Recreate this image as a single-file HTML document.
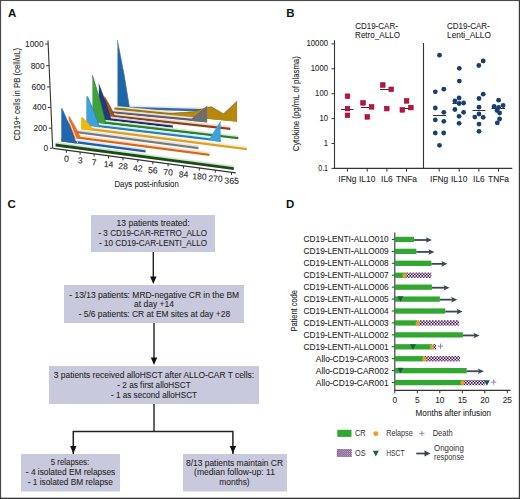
<!DOCTYPE html><html><head><meta charset="utf-8"><style>html,body{margin:0;padding:0;background:#fff;}svg{display:block;}</style></head><body>
<svg width="520" height="499" viewBox="0 0 520 499" font-family='"Liberation Sans", sans-serif'>
<defs><pattern id="chk" width="3" height="3.1" patternUnits="userSpaceOnUse" y="379"><rect width="3" height="3.1" fill="#f6e8f6"/><rect width="1.5" height="1.55" fill="#401650"/><rect x="1.5" y="1.55" width="1.5" height="1.55" fill="#401650"/></pattern><pattern id="chk2" width="2.1" height="2.1" patternUnits="userSpaceOnUse" x="337.3" y="449"><rect width="2.1" height="2.1" fill="#e2c8ea"/><rect width="1.05" height="1.05" fill="#553064"/><rect x="1.05" y="1.05" width="1.05" height="1.05" fill="#553064"/></pattern></defs>
<rect x="0" y="0" width="520" height="499" fill="#fff"/>
<rect x="0" y="0" width="520" height="1.05" fill="#4a4a4a"/><rect x="0" y="0" width="1.1" height="499" fill="#4a4a4a"/><rect x="518.8" y="0" width="1.2" height="499" fill="#3a3a3a"/><rect x="0" y="497.7" width="520" height="1.3" fill="#333"/>
<text x="8" y="16.8" font-size="11.5" text-anchor="start" fill="#111" font-weight="bold" >A</text>
<text x="286.3" y="16.9" font-size="11.5" text-anchor="start" fill="#111" font-weight="bold" >B</text>
<text x="7.6" y="207.6" font-size="11.5" text-anchor="start" fill="#111" font-weight="bold" >C</text>
<text x="286" y="207.6" font-size="11.5" text-anchor="start" fill="#111" font-weight="bold" >D</text>
<line x1="48.0" y1="40.4" x2="52.7" y2="148.2" stroke="#333" stroke-width="1.1"/>
<line x1="45.1569573283859" y1="44" x2="48.1569573283859" y2="44" stroke="#333" stroke-width="1"/>
<text x="43.56" y="47.0" font-size="8.3" text-anchor="end" fill="#262626" font-weight="normal" stroke="#262626" stroke-width="0.08" >1000</text>
<line x1="46.1030612244898" y1="65.7" x2="49.1030612244898" y2="65.7" stroke="#333" stroke-width="1"/>
<text x="44.5" y="68.7" font-size="8.3" text-anchor="end" fill="#262626" font-weight="normal" stroke="#262626" stroke-width="0.08" >800</text>
<line x1="47.02736549165121" y1="86.9" x2="50.02736549165121" y2="86.9" stroke="#333" stroke-width="1"/>
<text x="45.43" y="89.9" font-size="8.3" text-anchor="end" fill="#262626" font-weight="normal" stroke="#262626" stroke-width="0.08" >600</text>
<line x1="47.92115027829313" y1="107.4" x2="50.92115027829313" y2="107.4" stroke="#333" stroke-width="1"/>
<text x="46.32" y="110.4" font-size="8.3" text-anchor="end" fill="#262626" font-weight="normal" stroke="#262626" stroke-width="0.08" >400</text>
<line x1="48.828014842300554" y1="128.2" x2="51.828014842300554" y2="128.2" stroke="#333" stroke-width="1"/>
<text x="47.23" y="131.2" font-size="8.3" text-anchor="end" fill="#262626" font-weight="normal" stroke="#262626" stroke-width="0.08" >200</text>
<line x1="49.7" y1="148.2" x2="52.7" y2="148.2" stroke="#333" stroke-width="1"/>
<text x="48.1" y="151.2" font-size="8.3" text-anchor="end" fill="#262626" font-weight="normal" stroke="#262626" stroke-width="0.08" >0</text>
<text x="0" y="0" font-size="9.4" fill="#262626" stroke="#262626" stroke-width="0.1" text-anchor="middle" textLength="92.6" lengthAdjust="spacingAndGlyphs" transform="translate(20.4,94.2) rotate(-90)">CD19+ cells in PB (cell/uL)</text>
<line x1="53.2" y1="148.4" x2="235.8" y2="172.9" stroke="#333" stroke-width="1.1"/>
<line x1="66.3" y1="150.15766703176342" x2="66.3" y2="152.75766703176342" stroke="#333" stroke-width="1"/>
<text x="0" y="0" font-size="8.6" fill="#262626" stroke="#262626" stroke-width="0.1" text-anchor="middle" transform="translate(66.30,161.56) rotate(1.5)">0</text>
<line x1="80.12" y1="152.0119386637459" x2="80.12" y2="154.6119386637459" stroke="#333" stroke-width="1"/>
<text x="0" y="0" font-size="8.6" fill="#262626" stroke="#262626" stroke-width="0.1" text-anchor="middle" transform="translate(80.12,163.41) rotate(1.5)">3</text>
<line x1="94.17999999999999" y1="153.89841182913472" x2="94.17999999999999" y2="156.4984118291347" stroke="#333" stroke-width="1"/>
<text x="0" y="0" font-size="8.6" fill="#262626" stroke="#262626" stroke-width="0.1" text-anchor="middle" transform="translate(94.18,165.30) rotate(1.5)">7</text>
<line x1="108.47999999999999" y1="155.81708652792992" x2="108.47999999999999" y2="158.4170865279299" stroke="#333" stroke-width="1"/>
<text x="0" y="0" font-size="8.6" fill="#262626" stroke="#262626" stroke-width="0.1" text-anchor="middle" transform="translate(108.48,167.22) rotate(1.5)">14</text>
<line x1="123.02" y1="157.76796276013144" x2="123.02" y2="160.36796276013143" stroke="#333" stroke-width="1"/>
<text x="0" y="0" font-size="8.6" fill="#262626" stroke="#262626" stroke-width="0.1" text-anchor="middle" transform="translate(123.02,169.17) rotate(1.5)">28</text>
<line x1="137.8" y1="159.7510405257393" x2="137.8" y2="162.3510405257393" stroke="#333" stroke-width="1"/>
<text x="0" y="0" font-size="8.6" fill="#262626" stroke="#262626" stroke-width="0.1" text-anchor="middle" transform="translate(137.80,171.15) rotate(1.5)">42</text>
<line x1="152.82" y1="161.76631982475357" x2="152.82" y2="164.36631982475356" stroke="#333" stroke-width="1"/>
<text x="0" y="0" font-size="8.6" fill="#262626" stroke="#262626" stroke-width="0.1" text-anchor="middle" transform="translate(152.82,173.17) rotate(1.5)">56</text>
<line x1="168.07999999999998" y1="163.81380065717417" x2="168.07999999999998" y2="166.41380065717416" stroke="#333" stroke-width="1"/>
<text x="0" y="0" font-size="8.6" fill="#262626" stroke="#262626" stroke-width="0.1" text-anchor="middle" transform="translate(168.08,175.21) rotate(1.5)">70</text>
<line x1="183.57999999999998" y1="165.8934830230011" x2="183.57999999999998" y2="168.4934830230011" stroke="#333" stroke-width="1"/>
<text x="0" y="0" font-size="8.6" fill="#262626" stroke="#262626" stroke-width="0.1" text-anchor="middle" transform="translate(183.58,177.29) rotate(1.5)">84</text>
<line x1="199.32" y1="168.0053669222344" x2="199.32" y2="170.6053669222344" stroke="#333" stroke-width="1"/>
<text x="0" y="0" font-size="8.6" fill="#262626" stroke="#262626" stroke-width="0.1" text-anchor="middle" transform="translate(199.32,179.41) rotate(1.5)">180</text>
<line x1="215.3" y1="170.14945235487406" x2="215.3" y2="172.74945235487405" stroke="#333" stroke-width="1"/>
<text x="0" y="0" font-size="8.6" fill="#262626" stroke="#262626" stroke-width="0.1" text-anchor="middle" transform="translate(215.30,181.55) rotate(1.5)">270</text>
<line x1="231.52" y1="172.32573932092004" x2="231.52" y2="174.92573932092003" stroke="#333" stroke-width="1"/>
<text x="0" y="0" font-size="8.6" fill="#262626" stroke="#262626" stroke-width="0.1" text-anchor="middle" transform="translate(231.52,183.73) rotate(1.5)">365</text>
<text x="114.4" y="187.0" font-size="9.2" text-anchor="start" fill="#262626" font-weight="normal" stroke="#262626" stroke-width="0.08" textLength="64.4" lengthAdjust="spacingAndGlyphs" >Days post-infusion</text>
<polygon points="119.00,104.97 201.70,107.50 201.70,109.10 117.50,106.57" fill="#dbe8f6" />
<polygon points="117.50,106.57 201.70,109.10 201.70,111.40 117.50,108.88" fill="#3a6aa0" />
<polygon points="117.50,108.88 117.50,40.60 117.30,40.10 124.10,74.67 129.70,109.24" fill="#1f66a6" />
<polyline points="117.30,40.10 124.10,74.67 129.70,109.24" fill="none" stroke="#3a6aa0" stroke-width="0.9" opacity="0.8"/>
<polygon points="115.90,106.02 236.30,117.60 236.30,119.20 114.40,107.62" fill="#f0e4c4" />
<polygon points="114.40,107.62 236.30,119.20 236.30,121.50 114.40,109.92" fill="#9c7410" />
<polygon points="168.00,115.01 168.00,113.60 194.50,111.60 206.80,107.30 211.50,106.80 223.40,113.80 236.70,101.50 236.70,121.70" fill="#b7880e" />
<polyline points="168,113.6 194.5,111.6 206.8,107.3 211.5,106.8 223.4,113.8 236.7,101.5 236.7,121.7" fill="none" stroke="#6a5208" stroke-width="0.7" opacity="0.7"/>
<polygon points="111.50,109.30 206.50,118.47 206.50,120.07 110.00,110.90" fill="#e0e0e6" />
<polygon points="110.00,110.90 206.50,120.07 206.50,122.37 110.00,113.20" fill="#5e5e66" />
<polygon points="188.80,120.69 207.20,105.80 207.20,122.40" fill="#6e6e70" />
<polygon points="106.00,112.46 230.30,126.04 230.30,127.64 104.50,114.06" fill="#f0dccc" />
<polygon points="104.50,114.06 230.30,127.64 230.30,129.94 104.50,116.36" fill="#8e3f18" />
<polygon points="104.50,116.36 104.50,97.10 104.50,96.60 110.45,107.06 115.20,117.51" fill="#a5521d" />
<polyline points="104.50,96.60 110.45,107.06 115.20,117.51" fill="none" stroke="#8e3f18" stroke-width="0.9" opacity="0.8"/>
<polygon points="100.40,115.36 172.80,123.93 172.80,125.53 98.90,116.96" fill="#d2d8ea" />
<polygon points="98.90,116.96 172.80,125.53 172.80,127.83 98.90,119.26" fill="#1a2e66" />
<polygon points="98.90,119.26 98.90,84.90 98.90,84.40 105.70,102.55 111.30,120.70" fill="#1e3c7c" />
<polyline points="98.90,84.40 105.70,102.55 111.30,120.70" fill="none" stroke="#1a2e66" stroke-width="0.9" opacity="0.8"/>
<polygon points="93.90,118.51 238.30,135.43 238.30,137.03 92.40,120.11" fill="#d4ecd0" />
<polygon points="92.40,120.11 238.30,137.03 238.30,139.33 92.40,122.41" fill="#2f7d2f" />
<polygon points="92.40,122.41 92.40,75.50 92.40,75.00 99.80,99.49 106.00,123.99" fill="#40a03c" />
<polyline points="92.40,75.00 99.80,99.49 106.00,123.99" fill="none" stroke="#2f7d2f" stroke-width="0.9" opacity="0.8"/>
<polygon points="87.80,121.95 220.60,137.80 220.60,139.40 86.30,123.55" fill="#d2eefa" />
<polygon points="86.30,123.55 220.60,139.40 220.60,141.70 86.30,125.85" fill="#2582bc" />
<polygon points="86.30,125.85 86.30,96.70 87.50,96.20 94.10,111.81 99.50,127.41" fill="#3ea1dc" />
<polyline points="87.50,96.20 94.10,111.81 99.50,127.41" fill="none" stroke="#2582bc" stroke-width="0.9" opacity="0.8"/>
<polygon points="208.50,140.27 220.60,120.80 220.60,142.00" fill="#3ea1dc" />
<polygon points="82.60,125.25 246.80,146.46 246.80,148.06 81.10,126.85" fill="#fcefc4" />
<polygon points="81.10,126.85 246.80,148.06 246.80,150.36 81.10,129.15" fill="#dca02a" />
<polygon points="81.10,129.15 81.10,117.80 82.20,117.30 88.70,124.05 94.00,130.80" fill="#f3b805" />
<polyline points="82.20,117.30 88.70,124.05 94.00,130.80" fill="none" stroke="#dca02a" stroke-width="0.9" opacity="0.8"/>
<polygon points="76.50,129.17 198.50,145.34 198.50,146.94 75.00,130.77" fill="#e6e6e6" />
<polygon points="75.00,130.77 198.50,146.94 198.50,149.24 75.00,133.07" fill="#7a7a7a" />
<polygon points="70.00,133.66 209.50,152.13 209.50,153.73 68.50,135.26" fill="#fbe0c8" />
<polygon points="68.50,135.26 209.50,153.73 209.50,156.03 68.50,137.56" fill="#d8661a" />
<polygon points="68.50,137.56 68.50,116.70 69.00,116.20 75.65,127.71 81.10,139.21" fill="#e8721e" />
<polyline points="69.00,116.20 75.65,127.71 81.10,139.21" fill="none" stroke="#d8661a" stroke-width="0.9" opacity="0.8"/>
<polygon points="62.80,137.52 145.60,148.65 145.60,150.25 61.30,139.12" fill="#d6e6f6" />
<polygon points="61.30,139.12 145.60,150.25 145.60,152.55 61.30,141.42" fill="#1f5ea8" />
<polygon points="61.30,141.42 61.30,108.80 61.80,108.30 69.60,125.84 76.20,143.39" fill="#2366b0" />
<polyline points="63.30,109.10 71.10,125.84 77.70,142.79" fill="none" stroke="#fff" stroke-width="1.0" opacity="0.8"/>
<polyline points="61.80,108.30 69.60,125.84 76.20,143.39" fill="none" stroke="#1f5ea8" stroke-width="0.9" opacity="0.8"/>
<polygon points="57.00,142.01 233.90,165.55 233.90,167.15 55.50,143.61" fill="#cfe8c6" />
<polygon points="55.50,143.61 233.90,167.15 233.90,169.95 55.50,146.41" fill="#1a4a1a" />
<text x="376.5" y="29.2" font-size="9.6" text-anchor="middle" fill="#262626" font-weight="normal" stroke="#262626" stroke-width="0.08" textLength="42.7" lengthAdjust="spacingAndGlyphs" >CD19-CAR-</text>
<text x="377.5" y="38.2" font-size="9.6" text-anchor="middle" fill="#262626" font-weight="normal" stroke="#262626" stroke-width="0.08" textLength="44.9" lengthAdjust="spacingAndGlyphs" >Retro_ALLO</text>
<text x="468.4" y="29.2" font-size="9.6" text-anchor="middle" fill="#262626" font-weight="normal" stroke="#262626" stroke-width="0.08" textLength="42.8" lengthAdjust="spacingAndGlyphs" >CD19-CAR-</text>
<text x="469" y="38.2" font-size="9.6" text-anchor="middle" fill="#262626" font-weight="normal" stroke="#262626" stroke-width="0.08" textLength="43.9" lengthAdjust="spacingAndGlyphs" >Lenti_ALLO</text>
<line x1="334.5" y1="40.2" x2="334.5" y2="168.4" stroke="#333" stroke-width="1.1"/>
<line x1="334" y1="168.4" x2="512.3" y2="168.4" stroke="#333" stroke-width="1.2"/>
<line x1="423.5" y1="43" x2="423.5" y2="168.4" stroke="#333" stroke-width="1.1"/>
<line x1="331.5" y1="43.900000000000006" x2="334.5" y2="43.900000000000006" stroke="#333" stroke-width="1"/>
<text x="328" y="46.2" font-size="8.7" text-anchor="end" fill="#262626" font-weight="normal" stroke="#262626" stroke-width="0.08" textLength="21.5" lengthAdjust="spacingAndGlyphs" >10000</text>
<line x1="331.5" y1="68.80000000000001" x2="334.5" y2="68.80000000000001" stroke="#333" stroke-width="1"/>
<text x="328" y="71.1" font-size="8.7" text-anchor="end" fill="#262626" font-weight="normal" stroke="#262626" stroke-width="0.08" textLength="17.2" lengthAdjust="spacingAndGlyphs" >1000</text>
<line x1="331.5" y1="93.7" x2="334.5" y2="93.7" stroke="#333" stroke-width="1"/>
<text x="328" y="96.0" font-size="8.7" text-anchor="end" fill="#262626" font-weight="normal" stroke="#262626" stroke-width="0.08" textLength="12.9" lengthAdjust="spacingAndGlyphs" >100</text>
<line x1="331.5" y1="118.6" x2="334.5" y2="118.6" stroke="#333" stroke-width="1"/>
<text x="328" y="120.9" font-size="8.7" text-anchor="end" fill="#262626" font-weight="normal" stroke="#262626" stroke-width="0.08" textLength="8.6" lengthAdjust="spacingAndGlyphs" >10</text>
<line x1="331.5" y1="143.5" x2="334.5" y2="143.5" stroke="#333" stroke-width="1"/>
<text x="328" y="145.8" font-size="8.7" text-anchor="end" fill="#262626" font-weight="normal" stroke="#262626" stroke-width="0.08" textLength="4.3" lengthAdjust="spacingAndGlyphs" >1</text>
<line x1="331.5" y1="168.4" x2="334.5" y2="168.4" stroke="#333" stroke-width="1"/>
<text x="328" y="170.7" font-size="8.7" text-anchor="end" fill="#262626" font-weight="normal" stroke="#262626" stroke-width="0.08" textLength="9.75" lengthAdjust="spacingAndGlyphs" >0.1</text>
<text x="0" y="0" font-size="9.7" fill="#262626" stroke="#262626" stroke-width="0.1" text-anchor="middle" textLength="95" lengthAdjust="spacingAndGlyphs" transform="translate(299.0,103.7) rotate(-90)">Cytokine (pg/mL of plasma)</text>
<line x1="347.4" y1="168.4" x2="347.4" y2="171.6" stroke="#333" stroke-width="1"/>
<text x="347.4" y="181.5" font-size="8.4" text-anchor="middle" fill="#262626" font-weight="normal" stroke="#262626" stroke-width="0.08" >IFNg</text>
<line x1="367.2" y1="168.4" x2="367.2" y2="171.6" stroke="#333" stroke-width="1"/>
<text x="367.2" y="181.5" font-size="8.4" text-anchor="middle" fill="#262626" font-weight="normal" stroke="#262626" stroke-width="0.08" >IL10</text>
<line x1="386.9" y1="168.4" x2="386.9" y2="171.6" stroke="#333" stroke-width="1"/>
<text x="386.9" y="181.5" font-size="8.4" text-anchor="middle" fill="#262626" font-weight="normal" stroke="#262626" stroke-width="0.08" >IL6</text>
<line x1="406.5" y1="168.4" x2="406.5" y2="171.6" stroke="#333" stroke-width="1"/>
<text x="406.5" y="181.5" font-size="8.4" text-anchor="middle" fill="#262626" font-weight="normal" stroke="#262626" stroke-width="0.08" >TNFa</text>
<line x1="439.2" y1="168.4" x2="439.2" y2="171.6" stroke="#333" stroke-width="1"/>
<text x="439.2" y="181.5" font-size="8.4" text-anchor="middle" fill="#262626" font-weight="normal" stroke="#262626" stroke-width="0.08" >IFNg</text>
<line x1="459.2" y1="168.4" x2="459.2" y2="171.6" stroke="#333" stroke-width="1"/>
<text x="459.2" y="181.5" font-size="8.4" text-anchor="middle" fill="#262626" font-weight="normal" stroke="#262626" stroke-width="0.08" >IL10</text>
<line x1="478.9" y1="168.4" x2="478.9" y2="171.6" stroke="#333" stroke-width="1"/>
<text x="478.9" y="181.5" font-size="8.4" text-anchor="middle" fill="#262626" font-weight="normal" stroke="#262626" stroke-width="0.08" >IL6</text>
<line x1="498.5" y1="168.4" x2="498.5" y2="171.6" stroke="#333" stroke-width="1"/>
<text x="498.5" y="181.5" font-size="8.4" text-anchor="middle" fill="#262626" font-weight="normal" stroke="#262626" stroke-width="0.08" >TNFa</text>
<line x1="341" y1="109.5" x2="353.5" y2="109.5" stroke="#333" stroke-width="1"/>
<line x1="360.9" y1="107.5" x2="369" y2="107.5" stroke="#333" stroke-width="1"/>
<line x1="380" y1="89.5" x2="391" y2="89.5" stroke="#333" stroke-width="1"/>
<line x1="402" y1="108.5" x2="410" y2="108.5" stroke="#333" stroke-width="1"/>
<rect x="345.2" y="93.9" width="4.6" height="4.6" fill="#c0113b" stroke="#8e0c2c" stroke-width="0.6"/>
<rect x="345.2" y="106.3" width="4.6" height="4.6" fill="#c0113b" stroke="#8e0c2c" stroke-width="0.6"/>
<rect x="345.2" y="113.0" width="4.6" height="4.6" fill="#c0113b" stroke="#8e0c2c" stroke-width="0.6"/>
<rect x="360.7" y="100.6" width="4.6" height="4.6" fill="#c0113b" stroke="#8e0c2c" stroke-width="0.6"/>
<rect x="369.3" y="104.6" width="4.6" height="4.6" fill="#c0113b" stroke="#8e0c2c" stroke-width="0.6"/>
<rect x="365.0" y="114.6" width="4.6" height="4.6" fill="#c0113b" stroke="#8e0c2c" stroke-width="0.6"/>
<rect x="380.5" y="82.7" width="4.6" height="4.6" fill="#c0113b" stroke="#8e0c2c" stroke-width="0.6"/>
<rect x="388.9" y="87.0" width="4.6" height="4.6" fill="#c0113b" stroke="#8e0c2c" stroke-width="0.6"/>
<rect x="384.5" y="106.3" width="4.6" height="4.6" fill="#c0113b" stroke="#8e0c2c" stroke-width="0.6"/>
<rect x="404.3" y="98.6" width="4.6" height="4.6" fill="#c0113b" stroke="#8e0c2c" stroke-width="0.6"/>
<rect x="408.6" y="105.3" width="4.6" height="4.6" fill="#c0113b" stroke="#8e0c2c" stroke-width="0.6"/>
<rect x="400.0" y="107.6" width="4.6" height="4.6" fill="#c0113b" stroke="#8e0c2c" stroke-width="0.6"/>
<line x1="433" y1="115.5" x2="446" y2="115.5" stroke="#333" stroke-width="1"/>
<line x1="452.5" y1="103.5" x2="466" y2="103.5" stroke="#333" stroke-width="1"/>
<line x1="472.5" y1="110.5" x2="485.5" y2="110.5" stroke="#333" stroke-width="1"/>
<line x1="491.5" y1="108.5" x2="505" y2="108.5" stroke="#333" stroke-width="1"/>
<circle cx="439.5" cy="55.2" r="2.4" fill="#173f70"/>
<circle cx="443.8" cy="89.2" r="2.4" fill="#173f70"/>
<circle cx="435.3" cy="91.8" r="2.4" fill="#173f70"/>
<circle cx="435.3" cy="108" r="2.4" fill="#173f70"/>
<circle cx="443.8" cy="112.3" r="2.4" fill="#173f70"/>
<circle cx="435.3" cy="119.9" r="2.4" fill="#173f70"/>
<circle cx="443.8" cy="121.3" r="2.4" fill="#173f70"/>
<circle cx="435.3" cy="133" r="2.4" fill="#173f70"/>
<circle cx="443.7" cy="133" r="2.4" fill="#173f70"/>
<circle cx="439.5" cy="145.3" r="2.4" fill="#173f70"/>
<circle cx="459.3" cy="68.3" r="2.4" fill="#173f70"/>
<circle cx="459.3" cy="81.1" r="2.4" fill="#173f70"/>
<circle cx="459.1" cy="98" r="2.4" fill="#173f70"/>
<circle cx="454.9" cy="101" r="2.4" fill="#173f70"/>
<circle cx="459.1" cy="103.5" r="2.4" fill="#173f70"/>
<circle cx="463.6" cy="103" r="2.4" fill="#173f70"/>
<circle cx="454.9" cy="109.5" r="2.4" fill="#173f70"/>
<circle cx="463.6" cy="112.3" r="2.4" fill="#173f70"/>
<circle cx="459.1" cy="116.3" r="2.4" fill="#173f70"/>
<circle cx="459.1" cy="123.3" r="2.4" fill="#173f70"/>
<circle cx="483.2" cy="61" r="2.4" fill="#173f70"/>
<circle cx="478.8" cy="65.5" r="2.4" fill="#173f70"/>
<circle cx="483.2" cy="94.2" r="2.4" fill="#173f70"/>
<circle cx="479" cy="98.5" r="2.4" fill="#173f70"/>
<circle cx="479" cy="107.2" r="2.4" fill="#173f70"/>
<circle cx="479" cy="114" r="2.4" fill="#173f70"/>
<circle cx="474.8" cy="117.1" r="2.4" fill="#173f70"/>
<circle cx="483.2" cy="117.3" r="2.4" fill="#173f70"/>
<circle cx="479" cy="124.1" r="2.4" fill="#173f70"/>
<circle cx="479" cy="131.3" r="2.4" fill="#173f70"/>
<circle cx="498.6" cy="100.2" r="2.4" fill="#173f70"/>
<circle cx="494.1" cy="106.5" r="2.4" fill="#173f70"/>
<circle cx="503.1" cy="105.5" r="2.4" fill="#173f70"/>
<circle cx="498.6" cy="107.5" r="2.4" fill="#173f70"/>
<circle cx="497" cy="110.5" r="2.4" fill="#173f70"/>
<circle cx="499.6" cy="113" r="2.4" fill="#173f70"/>
<circle cx="499.6" cy="119" r="2.4" fill="#173f70"/>
<circle cx="497.3" cy="122.9" r="2.4" fill="#173f70"/>
<rect x="91" y="215" width="124" height="37" fill="#c9c9dd"/>
<rect x="64" y="285" width="180" height="38" fill="#c9c9dd"/>
<rect x="49" y="366" width="210" height="38" fill="#c9c9dd"/>
<rect x="21" y="454" width="99" height="37.5" fill="#c9c9dd"/>
<rect x="183" y="454" width="104" height="37.5" fill="#c9c9dd"/>
<text x="153.1" y="226" font-size="8.6" text-anchor="middle" fill="#262626" font-weight="normal" stroke="#262626" stroke-width="0.08" textLength="73.2" lengthAdjust="spacingAndGlyphs" >13 patients treated:</text>
<text x="152.8" y="235.9" font-size="8.6" text-anchor="middle" fill="#262626" font-weight="normal" stroke="#262626" stroke-width="0.08" textLength="108.8" lengthAdjust="spacingAndGlyphs" >- 3 CD19-CAR-RETRO_ALLO</text>
<text x="153.1" y="245.7" font-size="8.6" text-anchor="middle" fill="#262626" font-weight="normal" stroke="#262626" stroke-width="0.08" textLength="108.2" lengthAdjust="spacingAndGlyphs" >- 10 CD19-CAR-LENTI_ALLO</text>
<text x="154.2" y="297.5" font-size="8.6" text-anchor="middle" fill="#262626" font-weight="normal" stroke="#262626" stroke-width="0.08" textLength="169.9" lengthAdjust="spacingAndGlyphs" >- 13/13 patients: MRD-negative CR in the BM</text>
<text x="154" y="306.5" font-size="8.6" text-anchor="middle" fill="#262626" font-weight="normal" stroke="#262626" stroke-width="0.08" textLength="39.9" lengthAdjust="spacingAndGlyphs" >at day +14</text>
<text x="154.4" y="316.9" font-size="8.6" text-anchor="middle" fill="#262626" font-weight="normal" stroke="#262626" stroke-width="0.08" textLength="151.4" lengthAdjust="spacingAndGlyphs" >- 5/6 patients: CR at EM sites at day +28</text>
<text x="154" y="378" font-size="8.6" text-anchor="middle" fill="#262626" font-weight="normal" stroke="#262626" stroke-width="0.08" textLength="200.3" lengthAdjust="spacingAndGlyphs" >3 patients received alloHSCT after ALLO-CAR T cells:</text>
<text x="154" y="387.5" font-size="8.6" text-anchor="middle" fill="#262626" font-weight="normal" stroke="#262626" stroke-width="0.08" textLength="73.3" lengthAdjust="spacingAndGlyphs" >- 2 as first alloHSCT</text>
<text x="154" y="397.5" font-size="8.6" text-anchor="middle" fill="#262626" font-weight="normal" stroke="#262626" stroke-width="0.08" textLength="86.1" lengthAdjust="spacingAndGlyphs" >- 1 as second alloHSCT</text>
<text x="70" y="464.9" font-size="8.6" text-anchor="middle" fill="#262626" font-weight="normal" stroke="#262626" stroke-width="0.08" textLength="38.5" lengthAdjust="spacingAndGlyphs" >5 relapses:</text>
<text x="70.5" y="475.1" font-size="8.6" text-anchor="middle" fill="#262626" font-weight="normal" stroke="#262626" stroke-width="0.08" textLength="89.4" lengthAdjust="spacingAndGlyphs" >- 4 isolated EM relapses</text>
<text x="70.3" y="484.7" font-size="8.6" text-anchor="middle" fill="#262626" font-weight="normal" stroke="#262626" stroke-width="0.08" textLength="85.2" lengthAdjust="spacingAndGlyphs" >- 1 isolated BM relapse</text>
<text x="234.5" y="465.5" font-size="8.6" text-anchor="middle" fill="#262626" font-weight="normal" stroke="#262626" stroke-width="0.08" textLength="97" lengthAdjust="spacingAndGlyphs" >8/13 patients maintain CR</text>
<text x="234.5" y="475.2" font-size="8.6" text-anchor="middle" fill="#262626" font-weight="normal" stroke="#262626" stroke-width="0.08" textLength="80.8" lengthAdjust="spacingAndGlyphs" >(median follow-up: 11</text>
<text x="234.5" y="485.3" font-size="8.6" text-anchor="middle" fill="#262626" font-weight="normal" stroke="#262626" stroke-width="0.08" textLength="30.3" lengthAdjust="spacingAndGlyphs" >months)</text>
<line x1="153.3" y1="252" x2="153.3" y2="278.5" stroke="#222" stroke-width="1.4"/>
<polygon points="150.10,276.50 156.50,276.50 153.30,284.00" fill="#111" />
<line x1="154" y1="323" x2="154" y2="359.5" stroke="#222" stroke-width="1.4"/>
<polygon points="150.80,357.50 157.20,357.50 154.00,365.00" fill="#111" />
<line x1="154" y1="404" x2="154" y2="431.6" stroke="#222" stroke-width="1.4"/>
<path d="M73.3,454 V431.6 H232.9 V454" fill="none" stroke="#222" stroke-width="1.5"/>
<polygon points="70.10,446.00 76.50,446.00 73.30,453.50" fill="#111" />
<polygon points="229.70,446.00 236.10,446.00 232.90,453.50" fill="#111" />
<line x1="394.8" y1="232.5" x2="394.8" y2="390.4" stroke="#333" stroke-width="1.1"/>
<line x1="394.3" y1="390.4" x2="510.6" y2="390.4" stroke="#333" stroke-width="1.2"/>
<line x1="391.8" y1="239.4" x2="394.8" y2="239.4" stroke="#333" stroke-width="1"/>
<text x="388.6" y="242.4" font-size="8.4" text-anchor="end" fill="#262626" font-weight="normal" stroke="#262626" stroke-width="0.08" textLength="85" lengthAdjust="spacingAndGlyphs" >CD19-LENTI-ALLO010</text>
<line x1="391.8" y1="251.33" x2="394.8" y2="251.33" stroke="#333" stroke-width="1"/>
<text x="388.6" y="254.33" font-size="8.4" text-anchor="end" fill="#262626" font-weight="normal" stroke="#262626" stroke-width="0.08" textLength="85" lengthAdjust="spacingAndGlyphs" >CD19-LENTI-ALLO009</text>
<line x1="391.8" y1="263.26" x2="394.8" y2="263.26" stroke="#333" stroke-width="1"/>
<text x="388.6" y="266.26" font-size="8.4" text-anchor="end" fill="#262626" font-weight="normal" stroke="#262626" stroke-width="0.08" textLength="85" lengthAdjust="spacingAndGlyphs" >CD19-LENTI-ALLO008</text>
<line x1="391.8" y1="275.19" x2="394.8" y2="275.19" stroke="#333" stroke-width="1"/>
<text x="388.6" y="278.19" font-size="8.4" text-anchor="end" fill="#262626" font-weight="normal" stroke="#262626" stroke-width="0.08" textLength="85" lengthAdjust="spacingAndGlyphs" >CD19-LENTI-ALLO007</text>
<line x1="391.8" y1="287.12" x2="394.8" y2="287.12" stroke="#333" stroke-width="1"/>
<text x="388.6" y="290.12" font-size="8.4" text-anchor="end" fill="#262626" font-weight="normal" stroke="#262626" stroke-width="0.08" textLength="85" lengthAdjust="spacingAndGlyphs" >CD19-LENTI-ALLO006</text>
<line x1="391.8" y1="299.05" x2="394.8" y2="299.05" stroke="#333" stroke-width="1"/>
<text x="388.6" y="302.05" font-size="8.4" text-anchor="end" fill="#262626" font-weight="normal" stroke="#262626" stroke-width="0.08" textLength="85" lengthAdjust="spacingAndGlyphs" >CD19-LENTI-ALLO005</text>
<line x1="391.8" y1="310.98" x2="394.8" y2="310.98" stroke="#333" stroke-width="1"/>
<text x="388.6" y="313.98" font-size="8.4" text-anchor="end" fill="#262626" font-weight="normal" stroke="#262626" stroke-width="0.08" textLength="85" lengthAdjust="spacingAndGlyphs" >CD19-LENTI-ALLO004</text>
<line x1="391.8" y1="322.90999999999997" x2="394.8" y2="322.90999999999997" stroke="#333" stroke-width="1"/>
<text x="388.6" y="325.90999999999997" font-size="8.4" text-anchor="end" fill="#262626" font-weight="normal" stroke="#262626" stroke-width="0.08" textLength="85" lengthAdjust="spacingAndGlyphs" >CD19-LENTI-ALLO003</text>
<line x1="391.8" y1="334.84000000000003" x2="394.8" y2="334.84000000000003" stroke="#333" stroke-width="1"/>
<text x="388.6" y="337.84000000000003" font-size="8.4" text-anchor="end" fill="#262626" font-weight="normal" stroke="#262626" stroke-width="0.08" textLength="85" lengthAdjust="spacingAndGlyphs" >CD19-LENTI-ALLO002</text>
<line x1="391.8" y1="346.77" x2="394.8" y2="346.77" stroke="#333" stroke-width="1"/>
<text x="388.6" y="349.77" font-size="8.4" text-anchor="end" fill="#262626" font-weight="normal" stroke="#262626" stroke-width="0.08" textLength="85" lengthAdjust="spacingAndGlyphs" >CD19-LENTI-ALLO001</text>
<line x1="391.8" y1="358.7" x2="394.8" y2="358.7" stroke="#333" stroke-width="1"/>
<text x="388.6" y="361.7" font-size="8.4" text-anchor="end" fill="#262626" font-weight="normal" stroke="#262626" stroke-width="0.08" textLength="72.8" lengthAdjust="spacingAndGlyphs" >Allo-CD19-CAR003</text>
<line x1="391.8" y1="370.63" x2="394.8" y2="370.63" stroke="#333" stroke-width="1"/>
<text x="388.6" y="373.63" font-size="8.4" text-anchor="end" fill="#262626" font-weight="normal" stroke="#262626" stroke-width="0.08" textLength="72.8" lengthAdjust="spacingAndGlyphs" >Allo-CD19-CAR002</text>
<line x1="391.8" y1="382.56" x2="394.8" y2="382.56" stroke="#333" stroke-width="1"/>
<text x="388.6" y="385.56" font-size="8.4" text-anchor="end" fill="#262626" font-weight="normal" stroke="#262626" stroke-width="0.08" textLength="72.8" lengthAdjust="spacingAndGlyphs" >Allo-CD19-CAR001</text>
<line x1="394.8" y1="390.4" x2="394.8" y2="393.3" stroke="#333" stroke-width="1"/>
<text x="394.8" y="403.2" font-size="8.4" text-anchor="middle" fill="#262626" font-weight="normal" stroke="#262626" stroke-width="0.08" >0</text>
<line x1="417.3" y1="390.4" x2="417.3" y2="393.3" stroke="#333" stroke-width="1"/>
<text x="417.3" y="403.2" font-size="8.4" text-anchor="middle" fill="#262626" font-weight="normal" stroke="#262626" stroke-width="0.08" >5</text>
<line x1="439.8" y1="390.4" x2="439.8" y2="393.3" stroke="#333" stroke-width="1"/>
<text x="439.8" y="403.2" font-size="8.4" text-anchor="middle" fill="#262626" font-weight="normal" stroke="#262626" stroke-width="0.08" >10</text>
<line x1="462.3" y1="390.4" x2="462.3" y2="393.3" stroke="#333" stroke-width="1"/>
<text x="462.3" y="403.2" font-size="8.4" text-anchor="middle" fill="#262626" font-weight="normal" stroke="#262626" stroke-width="0.08" >15</text>
<line x1="484.8" y1="390.4" x2="484.8" y2="393.3" stroke="#333" stroke-width="1"/>
<text x="484.8" y="403.2" font-size="8.4" text-anchor="middle" fill="#262626" font-weight="normal" stroke="#262626" stroke-width="0.08" >20</text>
<line x1="507.3" y1="390.4" x2="507.3" y2="393.3" stroke="#333" stroke-width="1"/>
<text x="507.3" y="403.2" font-size="8.4" text-anchor="middle" fill="#262626" font-weight="normal" stroke="#262626" stroke-width="0.08" >25</text>
<text x="0" y="0" font-size="9.0" fill="#262626" stroke="#262626" stroke-width="0.1" text-anchor="middle" textLength="41.5" lengthAdjust="spacingAndGlyphs" transform="translate(297.4,310.85) rotate(-90)">Patient code</text>
<text x="415.6" y="416.4" font-size="9.2" text-anchor="start" fill="#262626" font-weight="normal" stroke="#262626" stroke-width="0.08" textLength="75.4" lengthAdjust="spacingAndGlyphs" >Months after infusion</text>
<rect x="394.80" y="236.80" width="19.30" height="5.3" fill="#31a631"/>
<line x1="414.1" y1="240.0" x2="427.9" y2="240.0" stroke="#3b4654" stroke-width="1.8"/>
<polygon points="425.70,237.20 431.90,240.00 425.70,242.80 427.10,240.00" fill="#3b4654" />
<rect x="394.80" y="248.73" width="21.50" height="5.3" fill="#31a631"/>
<line x1="416.3" y1="251.93" x2="430.5" y2="251.93" stroke="#3b4654" stroke-width="1.8"/>
<polygon points="428.30,249.13 434.50,251.93 428.30,254.73 429.70,251.93" fill="#3b4654" />
<rect x="394.80" y="260.66" width="36.50" height="5.3" fill="#31a631"/>
<line x1="431.3" y1="263.86" x2="443.5" y2="263.86" stroke="#3b4654" stroke-width="1.8"/>
<polygon points="441.30,261.06 447.50,263.86 441.30,266.66 442.70,263.86" fill="#3b4654" />
<rect x="394.80" y="272.59" width="11.20" height="5.3" fill="#31a631"/>
<rect x="406.00" y="272.59" width="25.30" height="5.3" fill="url(#chk)"/>
<circle cx="404.50" cy="275.49" r="2.2" fill="#f39a1e"/>
<rect x="394.80" y="284.52" width="37.10" height="5.3" fill="#31a631"/>
<line x1="431.9" y1="287.72" x2="445.6" y2="287.72" stroke="#3b4654" stroke-width="1.8"/>
<polygon points="443.40,284.92 449.60,287.72 443.40,290.52 444.80,287.72" fill="#3b4654" />
<rect x="394.80" y="296.45" width="45.10" height="5.3" fill="#31a631"/>
<line x1="439.9" y1="299.65000000000003" x2="453.3" y2="299.65000000000003" stroke="#3b4654" stroke-width="1.8"/>
<polygon points="451.10,296.85 457.30,299.65 451.10,302.45 452.50,299.65" fill="#3b4654" />
<polygon points="397.40,296.15 403.40,296.15 400.40,301.75" fill="#1d5a4a" />
<rect x="394.80" y="308.38" width="50.50" height="5.3" fill="#31a631"/>
<line x1="445.3" y1="311.58000000000004" x2="458.7" y2="311.58000000000004" stroke="#3b4654" stroke-width="1.8"/>
<polygon points="456.50,308.78 462.70,311.58 456.50,314.38 457.90,311.58" fill="#3b4654" />
<rect x="394.80" y="320.31" width="22.50" height="5.3" fill="#31a631"/>
<rect x="417.80" y="320.31" width="41.40" height="5.3" fill="url(#chk)"/>
<circle cx="417.80" cy="323.21" r="2.2" fill="#f39a1e"/>
<rect x="394.80" y="332.24" width="68.10" height="5.3" fill="#31a631"/>
<line x1="462.9" y1="335.44000000000005" x2="475.6" y2="335.44000000000005" stroke="#3b4654" stroke-width="1.8"/>
<polygon points="473.40,332.64 479.60,335.44 473.40,338.24 474.80,335.44" fill="#3b4654" />
<rect x="394.80" y="344.17" width="37.20" height="5.3" fill="#31a631"/>
<rect x="432.00" y="344.17" width="4.00" height="5.3" fill="url(#chk)"/>
<circle cx="432.00" cy="347.07" r="2.2" fill="#f39a1e"/>
<polygon points="410.00,344.37 416.00,344.37 413.00,349.97" fill="#1d5a4a" />
<line x1="437.9" y1="346.16999999999996" x2="443.1" y2="346.16999999999996" stroke="#9b7cc0" stroke-width="1"/>
<line x1="440.5" y1="343.56999999999994" x2="440.5" y2="348.77" stroke="#9b7cc0" stroke-width="1"/>
<rect x="394.80" y="356.10" width="28.80" height="5.3" fill="#31a631"/>
<rect x="424.00" y="356.10" width="36.00" height="5.3" fill="url(#chk)"/>
<circle cx="424.40" cy="359.00" r="2.2" fill="#f39a1e"/>
<rect x="394.80" y="368.03" width="71.90" height="5.3" fill="#31a631"/>
<line x1="466.7" y1="371.23" x2="480" y2="371.23" stroke="#3b4654" stroke-width="1.8"/>
<polygon points="477.80,368.43 484.00,371.23 477.80,374.03 479.20,371.23" fill="#3b4654" />
<polygon points="397.40,367.73 403.40,367.73 400.40,373.33" fill="#1d5a4a" />
<rect x="394.80" y="379.96" width="67.70" height="5.3" fill="#31a631"/>
<rect x="462.50" y="379.96" width="22.50" height="5.3" fill="url(#chk)"/>
<circle cx="462.50" cy="382.86" r="2.2" fill="#f39a1e"/>
<polygon points="483.90,380.16 489.90,380.16 486.90,385.76" fill="#1d5a4a" />
<line x1="491.09999999999997" y1="382.06" x2="496.3" y2="382.06" stroke="#9b7cc0" stroke-width="1"/>
<line x1="493.7" y1="379.46" x2="493.7" y2="384.66" stroke="#9b7cc0" stroke-width="1"/>
<rect x="337.3" y="429.8" width="14.2" height="7.1" fill="#31a631"/>
<text x="355" y="436" font-size="8.7" text-anchor="start" fill="#333" font-weight="normal" textLength="10.6" lengthAdjust="spacingAndGlyphs" >CR</text>
<circle cx="375.8" cy="433.7" r="2.4" fill="#f39a1e"/>
<text x="386.2" y="436" font-size="8.7" text-anchor="start" fill="#333" font-weight="normal" textLength="26.5" lengthAdjust="spacingAndGlyphs" >Relapse</text>
<line x1="419.29999999999995" y1="433.4" x2="424.5" y2="433.4" stroke="#9b7cc0" stroke-width="1"/>
<line x1="421.9" y1="430.79999999999995" x2="421.9" y2="436.0" stroke="#9b7cc0" stroke-width="1"/>
<text x="432.7" y="436" font-size="8.7" text-anchor="start" fill="#333" font-weight="normal" textLength="20" lengthAdjust="spacingAndGlyphs" >Death</text>
<rect x="336.8" y="449" width="15" height="8" fill="url(#chk2)"/>
<text x="355" y="455.8" font-size="8.7" text-anchor="start" fill="#333" font-weight="normal" textLength="10.6" lengthAdjust="spacingAndGlyphs" >OS</text>
<polygon points="372.80,450.80 378.80,450.80 375.80,456.40" fill="#1d5a4a" />
<text x="386.2" y="455.8" font-size="8.7" text-anchor="start" fill="#333" font-weight="normal" textLength="18.4" lengthAdjust="spacingAndGlyphs" >HSCT</text>
<line x1="416.2" y1="453.5" x2="426" y2="453.5" stroke="#3b4654" stroke-width="1.7"/>
<polygon points="424.50,450.60 430.50,453.50 424.50,456.40" fill="#3b4654" />
<text x="434" y="451.0" font-size="8.7" text-anchor="start" fill="#333" font-weight="normal" textLength="29.8" lengthAdjust="spacingAndGlyphs" >Ongoing</text>
<text x="434" y="459.6" font-size="8.7" text-anchor="start" fill="#333" font-weight="normal" textLength="30.2" lengthAdjust="spacingAndGlyphs" >response</text>
</svg></body></html>
